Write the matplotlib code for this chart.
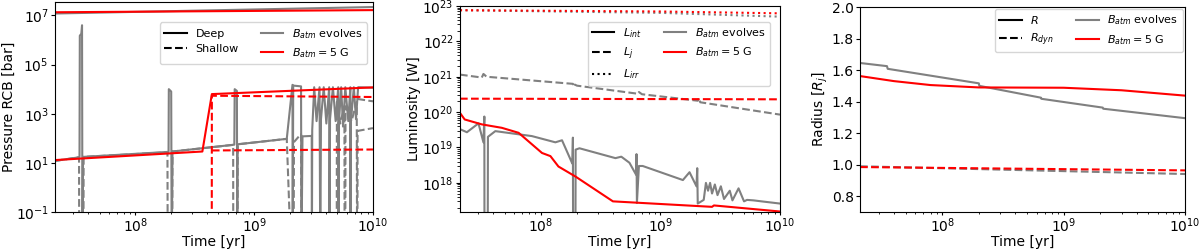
import matplotlib
matplotlib.use("Agg")
import matplotlib.pyplot as plt
from matplotlib.lines import Line2D

# --- panel 1: pressure at the RCB ---------------------------------------
# deep RCB (top lines)
t_deep = [2.1e7, 1e10]
p_deep_red = [1.35e7, 1.65e7]
p_deep_grey = [1.2e7, 2.2e7]

# lower solid branches
t_low_red = [2.1e7, 3.66e8, 4.4e8, 1e10]
p_low_red = [13, 29, 6.3e3, 1.18e4]

t_low_grey = [2.1e7, 3.38e7, 3.40e7, 3.50e7, 3.55e7, 3.58e7, 3.62e7,
              1.90e8, 1.91e8, 2.00e8, 2.02e8, 2.05e8,
              6.80e8, 6.85e8, 7.15e8, 7.20e8, 7.25e8,
              1.88e9, 2.10e9, 2.11e9, 2.13e9, 2.48e9, 2.50e9, 2.55e9,
              3.05e9, 3.06e9, 3.08e9, 3.20e9, 3.35e9, 3.55e9, 3.60e9,
              3.65e9, 3.85e9, 4.05e9, 4.28e9, 4.30e9, 4.35e9, 4.60e9,
              4.85e9, 5.10e9, 5.13e9, 5.16e9, 5.40e9, 5.60e9, 5.85e9,
              6.20e9, 6.45e9, 6.47e9, 6.50e9, 6.90e9, 7.20e9, 7.50e9, 1e10]
p_low_grey = [12, 17, 1.5e6, 1.8e6, 4e6, 1e-3, 17.5,
              28, 1e4, 8e3, 1e-3, 29,
              55, 1e4, 8.5e3, 1e-3, 57,
              95, 1.5e4, 1e-3, 1.4e4, 1.3e4, 1e-3, 120,
              125, 1e-3, 220, 1.2e4, 500, 1.2e4, 1e-3,
              600, 1.2e4, 400, 1.2e4, 1e-3, 600, 1.2e4,
              500, 1.2e4, 1e-3, 400, 1.2e4, 300, 1.2e4,
              500, 1.2e4, 1e-3, 400, 1.2e4, 600, 1.2e4, 1.15e4]

# shallow RCB (dashed)
t_sh_red_a = [2.1e7, 4.39e8, 4.4e8, 1e10]
p_sh_red_a = [1e-3, 1e-3, 5.4e3, 4.8e3]
t_sh_red_b = [4.4e8, 1e10]
p_sh_red_b = [32, 35]

t_sh_grey = [2.1e7, 3.35e7, 3.36e7, 3.65e7, 3.66e7,
             1.86e8, 1.87e8, 2.04e8, 2.05e8,
             6.65e8, 6.66e8, 7.25e8, 7.26e8,
             1.88e9, 2.05e9, 2.15e9, 2.16e9, 2.48e9, 2.50e9,
             4.95e9, 4.97e9, 5.30e9, 5.75e9, 5.77e9, 5.85e9, 5.87e9,
             6.60e9, 7.30e9, 7.35e9, 7.40e9, 7.42e9, 1e10]
p_sh_grey = [12, 17, 1e-3, 1e-3, 17.5,
             27, 1e-3, 1e-3, 29,
             54, 1e-3, 1e-3, 57,
             95, 1e-3, 1e-3, 70, 150, 1e-3,
             1e-3, 3e3, 400, 2e3, 1e-3, 1e-3, 2e3,
             500, 3e3, 1e-3, 1e-3, 200, 260]
t_sh_grey_b = [7.4e9, 1e10]
p_sh_grey_b = [4e3, 3.2e3]

# --- panel 2: luminosities ----------------------------------------------
t_irr = [2.1e7, 1e9, 1e10]
l_irr_red = [7.6e22, 7.0e22, 6.2e22]
l_irr_grey = [7.6e22, 6.4e22, 5.0e22]

t_j_red = [2.1e7, 1e10]
l_j_red = [2.4e20, 2.3e20]
t_j_grey = [2.1e7, 3.2e7, 3.3e7, 3.4e7, 3.5e7, 1.85e8, 1.9e8, 1.92e8, 2.0e8,
            6.5e8, 6.6e8, 7.0e8, 2.05e9, 2.1e9, 2.15e9, 1e10]
l_j_grey = [1.15e21, 9.5e20, 1.2e21, 1.1e21, 1.0e21, 6.3e20, 5.2e20, 6.0e20, 5.6e20,
            3.3e20, 3.7e20, 3.2e20, 2.1e20, 2.5e20, 1.9e20, 8.5e19]

t_int_red = [2.1e7, 2.3e7, 3.2e7, 4.7e7, 6.5e7, 1.02e8, 1.2e8, 1.4e8, 1.95e8,
             4.0e8, 2.1e9, 2.7e9, 2.8e9, 1e10]
l_int_red = [9.5e19, 6.2e19, 4.5e19, 3.6e19, 2.6e19, 7e18, 5.7e18, 2.9e18, 1.5e18,
             3e17, 2.2e17, 2.1e17, 2.3e17, 1.55e17]

t_int_grey = [2.1e7, 2.4e7, 3.0e7, 3.3e7, 3.36e7, 3.37e7, 3.58e7, 3.6e7, 4.15e7,
              8.4e7, 1.32e8, 1.5e8, 1.83e8, 1.85e8, 1.86e8, 1.94e8, 1.95e8, 2.1e8,
              4.2e8, 4.7e8, 5.5e8, 6.25e8, 6.3e8, 6.35e8, 6.6e8, 7.1e8,
              1.54e9, 1.75e9, 2.0e9, 2.03e9, 2.05e9, 2.3e9, 2.4e9, 2.5e9, 2.6e9,
              2.7e9, 2.85e9, 3.0e9, 3.2e9, 3.4e9, 3.8e9, 4.0e9, 4.5e9, 5.0e9,
              5.3e9, 6.0e9, 7.0e9, 1e10]
l_int_grey = [3.3e19, 2.7e19, 4.8e19, 1.4e19, 7.5e19, 1e15, 1e15, 2.0e19, 2.9e19,
              2.1e19, 1.4e19, 1.6e19, 3.5e18, 1.9e19, 1e15, 1e15, 8.7e18, 9.5e18,
              5e18, 5.5e18, 3.7e18, 1.7e18, 6.5e18, 2.7e17, 3e18, 3e18,
              1.2e18, 2e18, 8e17, 2.6e18, 2.6e17, 3.3e17, 1e18, 6e17, 1e18,
              5e17, 9e17, 4.5e17, 8e17, 3.5e17, 6e17, 3.2e17, 7e17, 3e17,
              3.3e17, 3.2e17, 3e17, 2.6e17]

# --- panel 3: radius ------------------------------------------------------
t_r_grey = [2.1e7, 3.5e7, 3.55e7, 2.0e8, 2.02e8, 6.5e8, 6.55e8, 2.1e9, 2.12e9, 1e10]
r_grey = [1.645, 1.625, 1.608, 1.516, 1.50, 1.425, 1.418, 1.362, 1.355, 1.295]
t_r_red = [2.1e7, 4e7, 8e7, 2e8, 1e9, 3e9, 1e10]
r_red = [1.562, 1.53, 1.505, 1.49, 1.488, 1.472, 1.438]
t_rdyn = [2.1e7, 1e10]
rdyn_red = [0.985, 0.964]
rdyn_grey = [0.99, 0.941]

GREY = "grey"
RED = "red"
LW = 1.5
XLIM = (2.1e7, 1e10)
LEG_FS = 8

plt.rcParams["font.size"] = 10
plt.rcParams["xtick.major.size"] = 2.5
plt.rcParams["xtick.minor.size"] = 1.5
plt.rcParams["xtick.major.pad"] = 0.5
plt.rcParams["ytick.major.size"] = 3
plt.rcParams["ytick.major.pad"] = 1.5
plt.rcParams["axes.labelpad"] = 1.0

fig = plt.figure(figsize=(12, 2.52), dpi=100)
ax1 = fig.add_axes([0.0458, 0.1587, 0.265, 0.833])
ax2 = fig.add_axes([0.3833, 0.1587, 0.2667, 0.8175])
ax3 = fig.add_axes([0.7167, 0.1587, 0.2708, 0.8135])

# panel 1
ax1.plot(t_sh_grey, p_sh_grey, "--", color=GREY, lw=LW)
ax1.plot(t_sh_grey_b, p_sh_grey_b, "--", color=GREY, lw=LW)
ax1.plot(t_low_grey, p_low_grey, "-", color=GREY, lw=LW)
ax1.plot(t_deep, p_deep_grey, "-", color=GREY, lw=LW)
ax1.plot(t_sh_red_a, p_sh_red_a, "--", color=RED, lw=LW)
ax1.plot(t_sh_red_b, p_sh_red_b, "--", color=RED, lw=LW)
ax1.plot(t_low_red, p_low_red, "-", color=RED, lw=LW)
ax1.plot(t_deep, p_deep_red, "-", color=RED, lw=LW)
ax1.set_xscale("log")
ax1.set_yscale("log")
ax1.set_xlim(*XLIM)
ax1.set_ylim(1e-1, 3.5e7)
ax1.set_xlabel("Time [yr]", labelpad=0)
ax1.set_ylabel("Pressure RCB [bar]", labelpad=0)
h1 = [Line2D([], [], color="k", ls="-", lw=LW),
      Line2D([], [], color="k", ls="--", lw=LW),
      Line2D([], [], color=GREY, lw=LW),
      Line2D([], [], color=RED, lw=LW)]
ax1.legend(h1, ["Deep", "Shallow", r"$B_{atm}$ evolves", r"$B_{atm} = 5$ G"],
           ncol=2, loc="upper right", bbox_to_anchor=(1.0, 0.93), fontsize=LEG_FS)

# panel 2
ax2.plot(t_irr, l_irr_grey, ":", color=GREY, lw=LW)
ax2.plot(t_irr, l_irr_red, ":", color=RED, lw=LW)
ax2.plot(t_j_grey, l_j_grey, "--", color=GREY, lw=LW)
ax2.plot(t_j_red, l_j_red, "--", color=RED, lw=LW)
ax2.plot(t_int_grey, l_int_grey, "-", color=GREY, lw=LW)
ax2.plot(t_int_red, l_int_red, "-", color=RED, lw=LW)
ax2.set_xscale("log")
ax2.set_yscale("log")
ax2.set_xlim(*XLIM)
ax2.set_ylim(1.5e17, 1e23)
ax2.set_xlabel("Time [yr]", labelpad=0)
ax2.set_ylabel("Luminosity [W]")
h2 = [Line2D([], [], color="k", ls="-", lw=LW),
      Line2D([], [], color="k", ls="--", lw=LW),
      Line2D([], [], color="k", ls=":", lw=LW),
      Line2D([], [], color=GREY, lw=LW),
      Line2D([], [], color=RED, lw=LW)]
ax2.legend(h2, [r"$L_{int}$", r"$L_j$", r"$L_{irr}$", r"$B_{atm}$ evolves", r"$B_{atm} = 5$ G"],
           ncol=2, loc="upper right", bbox_to_anchor=(0.9875, 0.95), fontsize=LEG_FS)

# panel 3
ax3.plot(t_rdyn, rdyn_grey, "--", color=GREY, lw=LW)
ax3.plot(t_rdyn, rdyn_red, "--", color=RED, lw=LW)
ax3.plot(t_r_grey, r_grey, "-", color=GREY, lw=LW)
ax3.plot(t_r_red, r_red, "-", color=RED, lw=LW)
ax3.set_xscale("log")
ax3.set_xlim(*XLIM)
ax3.set_ylim(0.7, 2.0)
ax3.set_yticks([0.8, 1.0, 1.2, 1.4, 1.6, 1.8, 2.0])
ax3.set_xlabel("Time [yr]", labelpad=0)
ax3.set_ylabel(r"Radius [$R_j$]")
h3 = [Line2D([], [], color="k", ls="-", lw=LW),
      Line2D([], [], color="k", ls="--", lw=LW),
      Line2D([], [], color=GREY, lw=LW),
      Line2D([], [], color=RED, lw=LW)]
ax3.legend(h3, [r"$R$", r"$R_{dyn}$", r"$B_{atm}$ evolves", r"$B_{atm} = 5$ G"],
           ncol=2, loc="upper right", bbox_to_anchor=(1.0, 1.0), borderaxespad=0.2,
           fontsize=LEG_FS)

fig.savefig("out.png", dpi=100)
